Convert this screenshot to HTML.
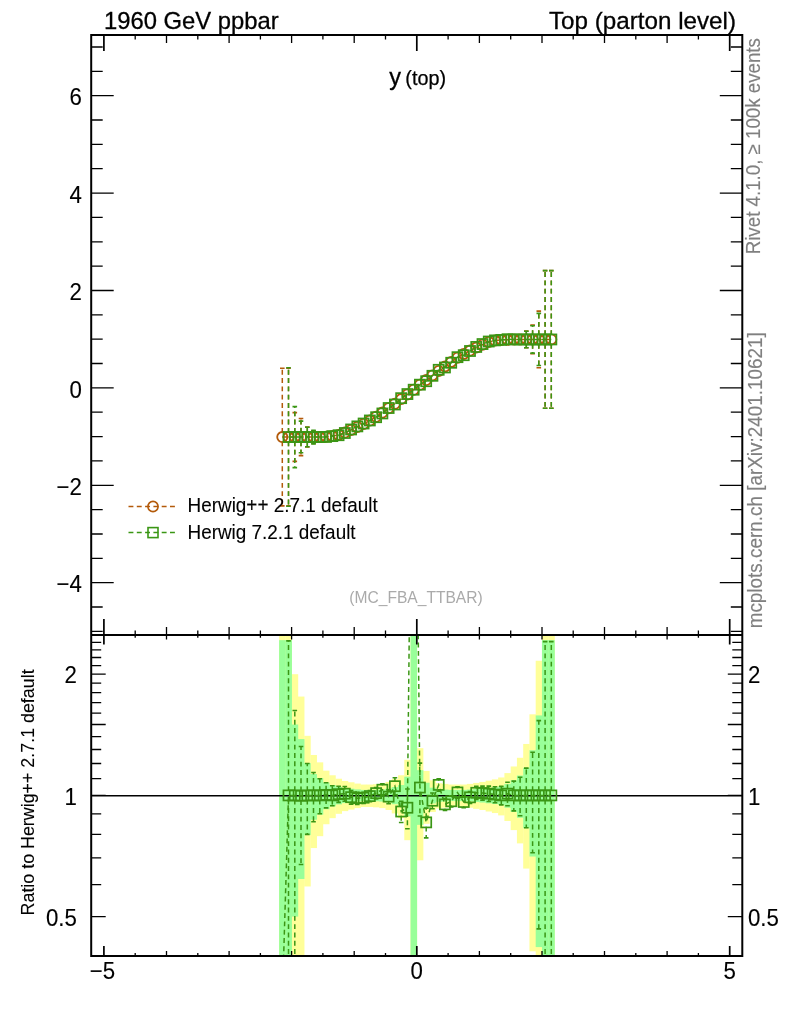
<!DOCTYPE html>
<html><head><meta charset="utf-8"><title>y (top)</title><style>html,body{margin:0;padding:0;background:#fff}svg{display:block;will-change:transform;opacity:0.999}</style></head><body>
<svg width="786" height="1024" viewBox="0 0 786 1024" font-family="'Liberation Sans', sans-serif">
<rect width="786" height="1024" fill="#fff"/>
<defs><clipPath id="cm"><rect x="91.2" y="35.0" width="651.0999999999999" height="600.0"/></clipPath><clipPath id="cr"><rect x="91.2" y="635.0" width="651.0999999999999" height="321.0"/></clipPath></defs>
<g clip-path="url(#cr)">
<rect x="279.12" y="559.23" width="6.56" height="2651.88" fill="#ffff99"/>
<rect x="285.38" y="559.23" width="6.56" height="2651.88" fill="#ffff99"/>
<rect x="291.64" y="674.20" width="6.56" height="2536.91" fill="#ffff99"/>
<rect x="297.90" y="696.55" width="6.56" height="348.39" fill="#ffff99"/>
<rect x="304.16" y="735.82" width="6.56" height="150.66" fill="#ffff99"/>
<rect x="310.41" y="754.99" width="6.56" height="93.06" fill="#ffff99"/>
<rect x="316.67" y="762.36" width="6.56" height="73.82" fill="#ffff99"/>
<rect x="322.93" y="770.66" width="6.56" height="53.57" fill="#ffff99"/>
<rect x="329.19" y="775.27" width="6.56" height="42.88" fill="#ffff99"/>
<rect x="335.45" y="778.73" width="6.56" height="35.09" fill="#ffff99"/>
<rect x="341.70" y="780.97" width="6.56" height="30.15" fill="#ffff99"/>
<rect x="347.96" y="782.27" width="6.56" height="27.33" fill="#ffff99"/>
<rect x="354.22" y="783.57" width="6.56" height="24.52" fill="#ffff99"/>
<rect x="360.48" y="784.55" width="6.56" height="22.41" fill="#ffff99"/>
<rect x="366.74" y="784.55" width="6.56" height="22.41" fill="#ffff99"/>
<rect x="372.99" y="784.22" width="6.56" height="23.11" fill="#ffff99"/>
<rect x="379.25" y="783.57" width="6.56" height="24.52" fill="#ffff99"/>
<rect x="385.51" y="781.94" width="6.56" height="28.04" fill="#ffff99"/>
<rect x="391.77" y="779.05" width="6.56" height="34.38" fill="#ffff99"/>
<rect x="398.03" y="775.27" width="6.56" height="42.88" fill="#ffff99"/>
<rect x="404.28" y="759.77" width="6.56" height="80.42" fill="#ffff99"/>
<rect x="410.54" y="-11.58" width="6.56" height="3222.68" fill="#ffff99"/>
<rect x="416.80" y="748.18" width="6.56" height="112.10" fill="#ffff99"/>
<rect x="423.06" y="770.96" width="6.56" height="52.86" fill="#ffff99"/>
<rect x="429.32" y="780.33" width="6.56" height="31.56" fill="#ffff99"/>
<rect x="435.57" y="783.24" width="6.56" height="25.22" fill="#ffff99"/>
<rect x="441.83" y="783.90" width="6.56" height="23.82" fill="#ffff99"/>
<rect x="448.09" y="784.55" width="6.56" height="22.41" fill="#ffff99"/>
<rect x="454.35" y="784.55" width="6.56" height="22.41" fill="#ffff99"/>
<rect x="460.61" y="784.55" width="6.56" height="22.41" fill="#ffff99"/>
<rect x="466.86" y="783.90" width="6.56" height="23.82" fill="#ffff99"/>
<rect x="473.12" y="782.92" width="6.56" height="25.93" fill="#ffff99"/>
<rect x="479.38" y="781.94" width="6.56" height="28.04" fill="#ffff99"/>
<rect x="485.64" y="780.65" width="6.56" height="30.85" fill="#ffff99"/>
<rect x="491.90" y="779.37" width="6.56" height="33.68" fill="#ffff99"/>
<rect x="498.15" y="777.47" width="6.56" height="37.92" fill="#ffff99"/>
<rect x="504.41" y="773.10" width="6.56" height="47.86" fill="#ffff99"/>
<rect x="510.67" y="766.46" width="6.56" height="63.64" fill="#ffff99"/>
<rect x="516.93" y="757.79" width="6.56" height="85.60" fill="#ffff99"/>
<rect x="523.19" y="743.96" width="6.56" height="124.62" fill="#ffff99"/>
<rect x="529.44" y="714.31" width="6.56" height="236.99" fill="#ffff99"/>
<rect x="535.70" y="660.74" width="6.56" height="2550.36" fill="#ffff99"/>
<rect x="541.96" y="559.23" width="6.56" height="2651.88" fill="#ffff99"/>
<rect x="548.22" y="559.23" width="6.56" height="2651.88" fill="#ffff99"/>
<rect x="279.12" y="640.15" width="6.56" height="2570.96" fill="#99ff99"/>
<rect x="285.38" y="640.15" width="6.56" height="2570.96" fill="#99ff99"/>
<rect x="291.64" y="724.50" width="6.56" height="192.10" fill="#99ff99"/>
<rect x="297.90" y="739.08" width="6.56" height="139.90" fill="#99ff99"/>
<rect x="304.16" y="763.08" width="6.56" height="71.99" fill="#99ff99"/>
<rect x="310.41" y="774.03" width="6.56" height="45.72" fill="#99ff99"/>
<rect x="316.67" y="778.10" width="6.56" height="36.50" fill="#99ff99"/>
<rect x="322.93" y="782.59" width="6.56" height="26.63" fill="#99ff99"/>
<rect x="329.19" y="785.05" width="6.56" height="21.36" fill="#99ff99"/>
<rect x="335.45" y="786.87" width="6.56" height="17.50" fill="#99ff99"/>
<rect x="341.70" y="788.04" width="6.56" height="15.05" fill="#99ff99"/>
<rect x="347.96" y="788.71" width="6.56" height="13.65" fill="#99ff99"/>
<rect x="354.22" y="789.38" width="6.56" height="12.24" fill="#99ff99"/>
<rect x="360.48" y="789.89" width="6.56" height="11.19" fill="#99ff99"/>
<rect x="366.74" y="789.89" width="6.56" height="11.19" fill="#99ff99"/>
<rect x="372.99" y="789.72" width="6.56" height="11.54" fill="#99ff99"/>
<rect x="379.25" y="789.38" width="6.56" height="12.24" fill="#99ff99"/>
<rect x="385.51" y="788.54" width="6.56" height="14.00" fill="#99ff99"/>
<rect x="391.77" y="787.04" width="6.56" height="17.15" fill="#99ff99"/>
<rect x="398.03" y="785.05" width="6.56" height="21.36" fill="#99ff99"/>
<rect x="404.28" y="776.68" width="6.56" height="39.69" fill="#99ff99"/>
<rect x="410.54" y="107.90" width="6.56" height="3103.20" fill="#99ff99"/>
<rect x="416.80" y="770.20" width="6.56" height="54.65" fill="#99ff99"/>
<rect x="423.06" y="782.75" width="6.56" height="26.28" fill="#99ff99"/>
<rect x="429.32" y="787.70" width="6.56" height="15.75" fill="#99ff99"/>
<rect x="435.57" y="789.22" width="6.56" height="12.59" fill="#99ff99"/>
<rect x="441.83" y="789.55" width="6.56" height="11.89" fill="#99ff99"/>
<rect x="448.09" y="789.89" width="6.56" height="11.19" fill="#99ff99"/>
<rect x="454.35" y="789.89" width="6.56" height="11.19" fill="#99ff99"/>
<rect x="460.61" y="789.89" width="6.56" height="11.19" fill="#99ff99"/>
<rect x="466.86" y="789.55" width="6.56" height="11.89" fill="#99ff99"/>
<rect x="473.12" y="789.05" width="6.56" height="12.95" fill="#99ff99"/>
<rect x="479.38" y="788.54" width="6.56" height="14.00" fill="#99ff99"/>
<rect x="485.64" y="787.87" width="6.56" height="15.40" fill="#99ff99"/>
<rect x="491.90" y="787.20" width="6.56" height="16.80" fill="#99ff99"/>
<rect x="498.15" y="786.20" width="6.56" height="18.90" fill="#99ff99"/>
<rect x="504.41" y="783.90" width="6.56" height="23.82" fill="#99ff99"/>
<rect x="510.67" y="780.33" width="6.56" height="31.56" fill="#99ff99"/>
<rect x="516.93" y="775.58" width="6.56" height="42.17" fill="#99ff99"/>
<rect x="523.19" y="767.80" width="6.56" height="60.39" fill="#99ff99"/>
<rect x="529.44" y="750.20" width="6.56" height="106.32" fill="#99ff99"/>
<rect x="535.70" y="715.42" width="6.56" height="231.67" fill="#99ff99"/>
<rect x="541.96" y="640.15" width="6.56" height="2570.96" fill="#99ff99"/>
<rect x="548.22" y="640.15" width="6.56" height="2570.96" fill="#99ff99"/>
<path d="M91.2 795.6999999999999H742.3" stroke="#000" stroke-width="1.5"/>
<path d="M282.3 1001.0 L288.5 795.4 L294.8 795.4 L301.0 795.8 L307.3 795.4 L313.5 795.4 L319.8 795.4 L326.1 794.9 L332.3 795.4 L338.6 794.2 L344.8 793.7 L351.1 797.2 L357.3 798.2 L363.6 797.7 L369.9 796.1 L376.1 793.1 L382.4 789.7 L388.6 796.6 L394.9 786.2 L401.2 811.5 L407.4 807.7 L413.7 219.1 L419.9 787.5 L426.2 822.4 L432.4 800.7 L438.7 784.9 L445.0 804.4 L451.2 801.3 L457.5 792.5 L463.7 802.0 L470.0 797.3 L476.3 792.8 L482.5 793.0 L488.8 793.7 L495.0 794.5 L501.3 795.4 L507.5 793.7 L513.8 795.4 L520.1 795.4 L526.3 795.4 L532.6 795.4 L538.8 795.4 L545.1 795.4 L551.3 795.4" stroke="#3a9614" stroke-width="1.5" stroke-dasharray="4.9 3.4" fill="none"/>
<path d="M288.5 791.1V640.9" stroke="#3a9614" stroke-width="1.5" stroke-dasharray="4.9 3.4" fill="none"/><path d="M288.5 799.7V1100.0" stroke="#3a9614" stroke-width="1.5" stroke-dasharray="4.9 3.4" fill="none"/><path d="M286.2 640.9h4.6M286.2 1100.0h4.6" stroke="#3a9614" stroke-width="1.6" fill="none"/>
<path d="M294.8 791.1V710.5" stroke="#3a9614" stroke-width="1.5" stroke-dasharray="4.9 3.4" fill="none"/><path d="M294.8 799.7V966.9" stroke="#3a9614" stroke-width="1.5" stroke-dasharray="4.9 3.4" fill="none"/><path d="M292.5 710.5h4.6M292.5 966.9h4.6" stroke="#3a9614" stroke-width="1.6" fill="none"/>
<path d="M301.0 791.5V746.5" stroke="#3a9614" stroke-width="1.5" stroke-dasharray="4.9 3.4" fill="none"/><path d="M301.0 800.1V864.5" stroke="#3a9614" stroke-width="1.5" stroke-dasharray="4.9 3.4" fill="none"/><path d="M298.7 746.5h4.6M298.7 864.5h4.6" stroke="#3a9614" stroke-width="1.6" fill="none"/>
<path d="M307.3 791.1V763.5" stroke="#3a9614" stroke-width="1.5" stroke-dasharray="4.9 3.4" fill="none"/><path d="M307.3 799.7V834.4" stroke="#3a9614" stroke-width="1.5" stroke-dasharray="4.9 3.4" fill="none"/><path d="M305.0 763.5h4.6M305.0 834.4h4.6" stroke="#3a9614" stroke-width="1.6" fill="none"/>
<path d="M313.5 791.1V772.5" stroke="#3a9614" stroke-width="1.5" stroke-dasharray="4.9 3.4" fill="none"/><path d="M313.5 799.7V821.8" stroke="#3a9614" stroke-width="1.5" stroke-dasharray="4.9 3.4" fill="none"/><path d="M311.2 772.5h4.6M311.2 821.8h4.6" stroke="#3a9614" stroke-width="1.6" fill="none"/>
<path d="M319.8 791.1V778.7" stroke="#3a9614" stroke-width="1.5" stroke-dasharray="4.9 3.4" fill="none"/><path d="M319.8 799.7V813.8" stroke="#3a9614" stroke-width="1.5" stroke-dasharray="4.9 3.4" fill="none"/><path d="M317.5 778.7h4.6M317.5 813.8h4.6" stroke="#3a9614" stroke-width="1.6" fill="none"/>
<path d="M326.1 790.6V782.7" stroke="#3a9614" stroke-width="1.5" stroke-dasharray="4.9 3.4" fill="none"/><path d="M326.1 799.2V807.9" stroke="#3a9614" stroke-width="1.5" stroke-dasharray="4.9 3.4" fill="none"/><path d="M323.8 782.7h4.6M323.8 807.9h4.6" stroke="#3a9614" stroke-width="1.6" fill="none"/>
<path d="M332.3 791.1V785.7" stroke="#3a9614" stroke-width="1.5" stroke-dasharray="4.9 3.4" fill="none"/><path d="M332.3 799.7V805.7" stroke="#3a9614" stroke-width="1.5" stroke-dasharray="4.9 3.4" fill="none"/><path d="M330.0 785.7h4.6M330.0 805.7h4.6" stroke="#3a9614" stroke-width="1.6" fill="none"/>
<path d="M338.6 789.9V786.3" stroke="#3a9614" stroke-width="1.5" stroke-dasharray="4.9 3.4" fill="none"/><path d="M338.6 798.5V802.4" stroke="#3a9614" stroke-width="1.5" stroke-dasharray="4.9 3.4" fill="none"/><path d="M336.3 786.3h4.6M336.3 802.4h4.6" stroke="#3a9614" stroke-width="1.6" fill="none"/>
<path d="M344.8 789.4V786.5" stroke="#3a9614" stroke-width="1.5" stroke-dasharray="4.9 3.4" fill="none"/><path d="M344.8 798.0V801.2" stroke="#3a9614" stroke-width="1.5" stroke-dasharray="4.9 3.4" fill="none"/><path d="M342.5 786.5h4.6M342.5 801.2h4.6" stroke="#3a9614" stroke-width="1.6" fill="none"/>
<path d="M351.1 792.9V790.5" stroke="#3a9614" stroke-width="1.5" stroke-dasharray="4.9 3.4" fill="none"/><path d="M351.1 801.5V804.1" stroke="#3a9614" stroke-width="1.5" stroke-dasharray="4.9 3.4" fill="none"/><path d="M348.8 790.5h4.6M348.8 804.1h4.6" stroke="#3a9614" stroke-width="1.6" fill="none"/>
<path d="M357.3 793.9V792.2" stroke="#3a9614" stroke-width="1.5" stroke-dasharray="4.9 3.4" fill="none"/><path d="M357.3 802.5V804.4" stroke="#3a9614" stroke-width="1.5" stroke-dasharray="4.9 3.4" fill="none"/><path d="M355.0 792.2h4.6M355.0 804.4h4.6" stroke="#3a9614" stroke-width="1.6" fill="none"/>
<path d="M363.6 793.4V792.2" stroke="#3a9614" stroke-width="1.5" stroke-dasharray="4.9 3.4" fill="none"/><path d="M363.6 802.0V803.4" stroke="#3a9614" stroke-width="1.5" stroke-dasharray="4.9 3.4" fill="none"/><path d="M361.3 792.2h4.6M361.3 803.4h4.6" stroke="#3a9614" stroke-width="1.6" fill="none"/>
<path d="M369.9 791.8V790.6" stroke="#3a9614" stroke-width="1.5" stroke-dasharray="4.9 3.4" fill="none"/><path d="M369.9 800.4V801.8" stroke="#3a9614" stroke-width="1.5" stroke-dasharray="4.9 3.4" fill="none"/><path d="M367.6 790.6h4.6M367.6 801.8h4.6" stroke="#3a9614" stroke-width="1.6" fill="none"/>
<path d="M376.1 788.8V787.5" stroke="#3a9614" stroke-width="1.5" stroke-dasharray="4.9 3.4" fill="none"/><path d="M376.1 797.4V799.0" stroke="#3a9614" stroke-width="1.5" stroke-dasharray="4.9 3.4" fill="none"/><path d="M373.8 787.5h4.6M373.8 799.0h4.6" stroke="#3a9614" stroke-width="1.6" fill="none"/>
<path d="M382.4 785.4V783.7" stroke="#3a9614" stroke-width="1.5" stroke-dasharray="4.9 3.4" fill="none"/><path d="M382.4 794.0V796.0" stroke="#3a9614" stroke-width="1.5" stroke-dasharray="4.9 3.4" fill="none"/><path d="M380.1 783.7h4.6M380.1 796.0h4.6" stroke="#3a9614" stroke-width="1.6" fill="none"/>
<path d="M388.6 792.3V789.8" stroke="#3a9614" stroke-width="1.5" stroke-dasharray="4.9 3.4" fill="none"/><path d="M388.6 800.9V803.8" stroke="#3a9614" stroke-width="1.5" stroke-dasharray="4.9 3.4" fill="none"/><path d="M386.3 789.8h4.6M386.3 803.8h4.6" stroke="#3a9614" stroke-width="1.6" fill="none"/>
<path d="M394.9 781.9V777.8" stroke="#3a9614" stroke-width="1.5" stroke-dasharray="4.9 3.4" fill="none"/><path d="M394.9 790.5V795.0" stroke="#3a9614" stroke-width="1.5" stroke-dasharray="4.9 3.4" fill="none"/><path d="M392.6 777.8h4.6M392.6 795.0h4.6" stroke="#3a9614" stroke-width="1.6" fill="none"/>
<path d="M401.2 807.2V801.2" stroke="#3a9614" stroke-width="1.5" stroke-dasharray="4.9 3.4" fill="none"/><path d="M401.2 815.8V822.5" stroke="#3a9614" stroke-width="1.5" stroke-dasharray="4.9 3.4" fill="none"/><path d="M398.9 801.2h4.6M398.9 822.5h4.6" stroke="#3a9614" stroke-width="1.6" fill="none"/>
<path d="M407.4 803.4V789.0" stroke="#3a9614" stroke-width="1.5" stroke-dasharray="4.9 3.4" fill="none"/><path d="M407.4 812.0V828.7" stroke="#3a9614" stroke-width="1.5" stroke-dasharray="4.9 3.4" fill="none"/><path d="M405.1 789.0h4.6M405.1 828.7h4.6" stroke="#3a9614" stroke-width="1.6" fill="none"/>
<path d="M419.9 783.2V763.1" stroke="#3a9614" stroke-width="1.5" stroke-dasharray="4.9 3.4" fill="none"/><path d="M419.9 791.8V816.0" stroke="#3a9614" stroke-width="1.5" stroke-dasharray="4.9 3.4" fill="none"/><path d="M417.6 763.1h4.6M417.6 816.0h4.6" stroke="#3a9614" stroke-width="1.6" fill="none"/>
<path d="M426.2 818.1V808.1" stroke="#3a9614" stroke-width="1.5" stroke-dasharray="4.9 3.4" fill="none"/><path d="M426.2 826.7V837.9" stroke="#3a9614" stroke-width="1.5" stroke-dasharray="4.9 3.4" fill="none"/><path d="M423.9 808.1h4.6M423.9 837.9h4.6" stroke="#3a9614" stroke-width="1.6" fill="none"/>
<path d="M432.4 796.4V793.0" stroke="#3a9614" stroke-width="1.5" stroke-dasharray="4.9 3.4" fill="none"/><path d="M432.4 805.0V808.8" stroke="#3a9614" stroke-width="1.5" stroke-dasharray="4.9 3.4" fill="none"/><path d="M430.1 793.0h4.6M430.1 808.8h4.6" stroke="#3a9614" stroke-width="1.6" fill="none"/>
<path d="M438.7 780.6V778.7" stroke="#3a9614" stroke-width="1.5" stroke-dasharray="4.9 3.4" fill="none"/><path d="M438.7 789.2V791.3" stroke="#3a9614" stroke-width="1.5" stroke-dasharray="4.9 3.4" fill="none"/><path d="M436.4 778.7h4.6M436.4 791.3h4.6" stroke="#3a9614" stroke-width="1.6" fill="none"/>
<path d="M445.0 800.1V798.5" stroke="#3a9614" stroke-width="1.5" stroke-dasharray="4.9 3.4" fill="none"/><path d="M445.0 808.7V810.4" stroke="#3a9614" stroke-width="1.5" stroke-dasharray="4.9 3.4" fill="none"/><path d="M442.7 798.5h4.6M442.7 810.4h4.6" stroke="#3a9614" stroke-width="1.6" fill="none"/>
<path d="M451.2 797.0V795.8" stroke="#3a9614" stroke-width="1.5" stroke-dasharray="4.9 3.4" fill="none"/><path d="M451.2 805.6V807.0" stroke="#3a9614" stroke-width="1.5" stroke-dasharray="4.9 3.4" fill="none"/><path d="M448.9 795.8h4.6M448.9 807.0h4.6" stroke="#3a9614" stroke-width="1.6" fill="none"/>
<path d="M457.5 788.2V786.9" stroke="#3a9614" stroke-width="1.5" stroke-dasharray="4.9 3.4" fill="none"/><path d="M457.5 796.8V798.1" stroke="#3a9614" stroke-width="1.5" stroke-dasharray="4.9 3.4" fill="none"/><path d="M455.2 786.9h4.6M455.2 798.1h4.6" stroke="#3a9614" stroke-width="1.6" fill="none"/>
<path d="M463.7 797.7V796.5" stroke="#3a9614" stroke-width="1.5" stroke-dasharray="4.9 3.4" fill="none"/><path d="M463.7 806.3V807.7" stroke="#3a9614" stroke-width="1.5" stroke-dasharray="4.9 3.4" fill="none"/><path d="M461.4 796.5h4.6M461.4 807.7h4.6" stroke="#3a9614" stroke-width="1.6" fill="none"/>
<path d="M470.0 793.0V791.5" stroke="#3a9614" stroke-width="1.5" stroke-dasharray="4.9 3.4" fill="none"/><path d="M470.0 801.6V803.4" stroke="#3a9614" stroke-width="1.5" stroke-dasharray="4.9 3.4" fill="none"/><path d="M467.7 791.5h4.6M467.7 803.4h4.6" stroke="#3a9614" stroke-width="1.6" fill="none"/>
<path d="M476.3 788.5V786.4" stroke="#3a9614" stroke-width="1.5" stroke-dasharray="4.9 3.4" fill="none"/><path d="M476.3 797.1V799.4" stroke="#3a9614" stroke-width="1.5" stroke-dasharray="4.9 3.4" fill="none"/><path d="M474.0 786.4h4.6M474.0 799.4h4.6" stroke="#3a9614" stroke-width="1.6" fill="none"/>
<path d="M482.5 788.7V786.1" stroke="#3a9614" stroke-width="1.5" stroke-dasharray="4.9 3.4" fill="none"/><path d="M482.5 797.3V800.1" stroke="#3a9614" stroke-width="1.5" stroke-dasharray="4.9 3.4" fill="none"/><path d="M480.2 786.1h4.6M480.2 800.1h4.6" stroke="#3a9614" stroke-width="1.6" fill="none"/>
<path d="M488.8 789.4V786.1" stroke="#3a9614" stroke-width="1.5" stroke-dasharray="4.9 3.4" fill="none"/><path d="M488.8 798.0V801.5" stroke="#3a9614" stroke-width="1.5" stroke-dasharray="4.9 3.4" fill="none"/><path d="M486.5 786.1h4.6M486.5 801.5h4.6" stroke="#3a9614" stroke-width="1.6" fill="none"/>
<path d="M495.0 790.2V786.7" stroke="#3a9614" stroke-width="1.5" stroke-dasharray="4.9 3.4" fill="none"/><path d="M495.0 798.8V802.8" stroke="#3a9614" stroke-width="1.5" stroke-dasharray="4.9 3.4" fill="none"/><path d="M492.7 786.7h4.6M492.7 802.8h4.6" stroke="#3a9614" stroke-width="1.6" fill="none"/>
<path d="M501.3 791.1V786.4" stroke="#3a9614" stroke-width="1.5" stroke-dasharray="4.9 3.4" fill="none"/><path d="M501.3 799.7V804.9" stroke="#3a9614" stroke-width="1.5" stroke-dasharray="4.9 3.4" fill="none"/><path d="M499.0 786.4h4.6M499.0 804.9h4.6" stroke="#3a9614" stroke-width="1.6" fill="none"/>
<path d="M507.5 789.4V782.3" stroke="#3a9614" stroke-width="1.5" stroke-dasharray="4.9 3.4" fill="none"/><path d="M507.5 798.0V805.8" stroke="#3a9614" stroke-width="1.5" stroke-dasharray="4.9 3.4" fill="none"/><path d="M505.2 782.3h4.6M505.2 805.8h4.6" stroke="#3a9614" stroke-width="1.6" fill="none"/>
<path d="M513.8 791.1V781.1" stroke="#3a9614" stroke-width="1.5" stroke-dasharray="4.9 3.4" fill="none"/><path d="M513.8 799.7V810.9" stroke="#3a9614" stroke-width="1.5" stroke-dasharray="4.9 3.4" fill="none"/><path d="M511.5 781.1h4.6M511.5 810.9h4.6" stroke="#3a9614" stroke-width="1.6" fill="none"/>
<path d="M520.1 791.1V777.2" stroke="#3a9614" stroke-width="1.5" stroke-dasharray="4.9 3.4" fill="none"/><path d="M520.1 799.7V815.8" stroke="#3a9614" stroke-width="1.5" stroke-dasharray="4.9 3.4" fill="none"/><path d="M517.8 777.2h4.6M517.8 815.8h4.6" stroke="#3a9614" stroke-width="1.6" fill="none"/>
<path d="M526.3 791.1V768.1" stroke="#3a9614" stroke-width="1.5" stroke-dasharray="4.9 3.4" fill="none"/><path d="M526.3 799.7V827.8" stroke="#3a9614" stroke-width="1.5" stroke-dasharray="4.9 3.4" fill="none"/><path d="M524.0 768.1h4.6M524.0 827.8h4.6" stroke="#3a9614" stroke-width="1.6" fill="none"/>
<path d="M532.6 791.1V752.2" stroke="#3a9614" stroke-width="1.5" stroke-dasharray="4.9 3.4" fill="none"/><path d="M532.6 799.7V852.8" stroke="#3a9614" stroke-width="1.5" stroke-dasharray="4.9 3.4" fill="none"/><path d="M530.3 752.2h4.6M530.3 852.8h4.6" stroke="#3a9614" stroke-width="1.6" fill="none"/>
<path d="M538.8 791.1V720.6" stroke="#3a9614" stroke-width="1.5" stroke-dasharray="4.9 3.4" fill="none"/><path d="M538.8 799.7V928.9" stroke="#3a9614" stroke-width="1.5" stroke-dasharray="4.9 3.4" fill="none"/><path d="M536.5 720.6h4.6M536.5 928.9h4.6" stroke="#3a9614" stroke-width="1.6" fill="none"/>
<path d="M545.1 791.1V641.6" stroke="#3a9614" stroke-width="1.5" stroke-dasharray="4.9 3.4" fill="none"/><path d="M545.1 799.7V1100.0" stroke="#3a9614" stroke-width="1.5" stroke-dasharray="4.9 3.4" fill="none"/><path d="M542.8 641.6h4.6M542.8 1100.0h4.6" stroke="#3a9614" stroke-width="1.6" fill="none"/>
<path d="M551.3 791.1V641.6" stroke="#3a9614" stroke-width="1.5" stroke-dasharray="4.9 3.4" fill="none"/><path d="M551.3 799.7V1100.0" stroke="#3a9614" stroke-width="1.5" stroke-dasharray="4.9 3.4" fill="none"/><path d="M549.0 641.6h4.6M549.0 1100.0h4.6" stroke="#3a9614" stroke-width="1.6" fill="none"/>
<rect x="283.46" y="790.35" width="10.1" height="10.1" fill="none" stroke="#3a9614" stroke-width="1.7"/>
<rect x="289.72" y="790.35" width="10.1" height="10.1" fill="none" stroke="#3a9614" stroke-width="1.7"/>
<rect x="295.98" y="790.70" width="10.1" height="10.1" fill="none" stroke="#3a9614" stroke-width="1.7"/>
<rect x="302.24" y="790.35" width="10.1" height="10.1" fill="none" stroke="#3a9614" stroke-width="1.7"/>
<rect x="308.49" y="790.35" width="10.1" height="10.1" fill="none" stroke="#3a9614" stroke-width="1.7"/>
<rect x="314.75" y="790.35" width="10.1" height="10.1" fill="none" stroke="#3a9614" stroke-width="1.7"/>
<rect x="321.01" y="789.83" width="10.1" height="10.1" fill="none" stroke="#3a9614" stroke-width="1.7"/>
<rect x="327.27" y="790.35" width="10.1" height="10.1" fill="none" stroke="#3a9614" stroke-width="1.7"/>
<rect x="333.53" y="789.13" width="10.1" height="10.1" fill="none" stroke="#3a9614" stroke-width="1.7"/>
<rect x="339.78" y="788.61" width="10.1" height="10.1" fill="none" stroke="#3a9614" stroke-width="1.7"/>
<rect x="346.04" y="792.11" width="10.1" height="10.1" fill="none" stroke="#3a9614" stroke-width="1.7"/>
<rect x="352.30" y="793.17" width="10.1" height="10.1" fill="none" stroke="#3a9614" stroke-width="1.7"/>
<rect x="358.56" y="792.64" width="10.1" height="10.1" fill="none" stroke="#3a9614" stroke-width="1.7"/>
<rect x="364.81" y="791.05" width="10.1" height="10.1" fill="none" stroke="#3a9614" stroke-width="1.7"/>
<rect x="371.07" y="788.09" width="10.1" height="10.1" fill="none" stroke="#3a9614" stroke-width="1.7"/>
<rect x="377.33" y="784.67" width="10.1" height="10.1" fill="none" stroke="#3a9614" stroke-width="1.7"/>
<rect x="383.59" y="791.58" width="10.1" height="10.1" fill="none" stroke="#3a9614" stroke-width="1.7"/>
<rect x="389.85" y="781.15" width="10.1" height="10.1" fill="none" stroke="#3a9614" stroke-width="1.7"/>
<rect x="396.11" y="806.46" width="10.1" height="10.1" fill="none" stroke="#3a9614" stroke-width="1.7"/>
<rect x="402.36" y="802.66" width="10.1" height="10.1" fill="none" stroke="#3a9614" stroke-width="1.7"/>
<rect x="414.88" y="782.49" width="10.1" height="10.1" fill="none" stroke="#3a9614" stroke-width="1.7"/>
<rect x="421.14" y="817.33" width="10.1" height="10.1" fill="none" stroke="#3a9614" stroke-width="1.7"/>
<rect x="427.39" y="795.68" width="10.1" height="10.1" fill="none" stroke="#3a9614" stroke-width="1.7"/>
<rect x="433.65" y="779.83" width="10.1" height="10.1" fill="none" stroke="#3a9614" stroke-width="1.7"/>
<rect x="439.91" y="799.32" width="10.1" height="10.1" fill="none" stroke="#3a9614" stroke-width="1.7"/>
<rect x="446.17" y="796.22" width="10.1" height="10.1" fill="none" stroke="#3a9614" stroke-width="1.7"/>
<rect x="452.43" y="787.40" width="10.1" height="10.1" fill="none" stroke="#3a9614" stroke-width="1.7"/>
<rect x="458.69" y="796.94" width="10.1" height="10.1" fill="none" stroke="#3a9614" stroke-width="1.7"/>
<rect x="464.94" y="792.28" width="10.1" height="10.1" fill="none" stroke="#3a9614" stroke-width="1.7"/>
<rect x="471.20" y="787.75" width="10.1" height="10.1" fill="none" stroke="#3a9614" stroke-width="1.7"/>
<rect x="477.46" y="787.92" width="10.1" height="10.1" fill="none" stroke="#3a9614" stroke-width="1.7"/>
<rect x="483.72" y="788.61" width="10.1" height="10.1" fill="none" stroke="#3a9614" stroke-width="1.7"/>
<rect x="489.97" y="789.48" width="10.1" height="10.1" fill="none" stroke="#3a9614" stroke-width="1.7"/>
<rect x="496.23" y="790.35" width="10.1" height="10.1" fill="none" stroke="#3a9614" stroke-width="1.7"/>
<rect x="502.49" y="788.61" width="10.1" height="10.1" fill="none" stroke="#3a9614" stroke-width="1.7"/>
<rect x="508.75" y="790.35" width="10.1" height="10.1" fill="none" stroke="#3a9614" stroke-width="1.7"/>
<rect x="515.01" y="790.35" width="10.1" height="10.1" fill="none" stroke="#3a9614" stroke-width="1.7"/>
<rect x="521.27" y="790.35" width="10.1" height="10.1" fill="none" stroke="#3a9614" stroke-width="1.7"/>
<rect x="527.52" y="790.35" width="10.1" height="10.1" fill="none" stroke="#3a9614" stroke-width="1.7"/>
<rect x="533.78" y="790.35" width="10.1" height="10.1" fill="none" stroke="#3a9614" stroke-width="1.7"/>
<rect x="540.04" y="790.35" width="10.1" height="10.1" fill="none" stroke="#3a9614" stroke-width="1.7"/>
<rect x="546.30" y="790.35" width="10.1" height="10.1" fill="none" stroke="#3a9614" stroke-width="1.7"/>
</g>
<g clip-path="url(#cm)">
<path d="M282.3 437.1 L288.5 437.1 L294.8 437.1 L301.0 437.1 L307.3 437.1 L313.5 437.1 L319.8 437.1 L326.1 436.8 L332.3 436.1 L338.6 434.9 L344.8 432.6 L351.1 429.9 L357.3 427.0 L363.6 424.0 L369.9 420.6 L376.1 416.8 L382.4 412.6 L388.6 408.2 L394.9 403.7 L401.2 399.1 L407.4 394.5 L413.7 389.7 L419.9 384.8 L426.2 380.1 L432.4 375.4 L438.7 370.9 L445.0 366.4 L451.2 361.9 L457.5 357.7 L463.7 353.9 L470.0 350.6 L476.3 347.6 L482.5 344.7 L488.8 342.0 L495.0 340.6 L501.3 339.9 L507.5 339.7 L513.8 339.4 L520.1 339.4 L526.3 339.4 L532.6 339.4 L538.8 339.4 L545.1 339.4 L551.3 339.4" stroke="#b35a0a" stroke-width="1.5" stroke-dasharray="4.9 3.4" fill="none"/>
<path d="M282.3 432.8V368.2" stroke="#b35a0a" stroke-width="1.5" stroke-dasharray="4.9 3.4" fill="none"/><path d="M282.3 441.4V505.9" stroke="#b35a0a" stroke-width="1.5" stroke-dasharray="4.9 3.4" fill="none"/><path d="M280.0 368.2h4.6M280.0 505.9h4.6" stroke="#b35a0a" stroke-width="1.6" fill="none"/>
<path d="M288.5 432.8V368.2" stroke="#b35a0a" stroke-width="1.5" stroke-dasharray="4.9 3.4" fill="none"/><path d="M288.5 441.4V505.9" stroke="#b35a0a" stroke-width="1.5" stroke-dasharray="4.9 3.4" fill="none"/><path d="M286.2 368.2h4.6M286.2 505.9h4.6" stroke="#b35a0a" stroke-width="1.6" fill="none"/>
<path d="M294.8 432.8V412.6" stroke="#b35a0a" stroke-width="1.5" stroke-dasharray="4.9 3.4" fill="none"/><path d="M294.8 441.4V461.4" stroke="#b35a0a" stroke-width="1.5" stroke-dasharray="4.9 3.4" fill="none"/><path d="M292.5 412.6h4.6M292.5 461.4h4.6" stroke="#b35a0a" stroke-width="1.6" fill="none"/>
<path d="M301.0 432.8V418.5" stroke="#b35a0a" stroke-width="1.5" stroke-dasharray="4.9 3.4" fill="none"/><path d="M301.0 441.4V455.6" stroke="#b35a0a" stroke-width="1.5" stroke-dasharray="4.9 3.4" fill="none"/><path d="M298.7 418.5h4.6M298.7 455.6h4.6" stroke="#b35a0a" stroke-width="1.6" fill="none"/>
<path d="M307.3 432.8V427.1" stroke="#b35a0a" stroke-width="1.5" stroke-dasharray="4.9 3.4" fill="none"/><path d="M307.3 441.4V447.0" stroke="#b35a0a" stroke-width="1.5" stroke-dasharray="4.9 3.4" fill="none"/><path d="M305.0 427.1h4.6M305.0 447.0h4.6" stroke="#b35a0a" stroke-width="1.6" fill="none"/>
<path d="M313.5 432.8V430.7" stroke="#b35a0a" stroke-width="1.5" stroke-dasharray="4.9 3.4" fill="none"/><path d="M313.5 441.4V443.4" stroke="#b35a0a" stroke-width="1.5" stroke-dasharray="4.9 3.4" fill="none"/><path d="M311.2 430.7h4.6M311.2 443.4h4.6" stroke="#b35a0a" stroke-width="1.6" fill="none"/>
<path d="M526.3 335.1V331.1" stroke="#b35a0a" stroke-width="1.5" stroke-dasharray="4.9 3.4" fill="none"/><path d="M526.3 343.8V347.8" stroke="#b35a0a" stroke-width="1.5" stroke-dasharray="4.9 3.4" fill="none"/><path d="M524.0 331.1h4.6M524.0 347.8h4.6" stroke="#b35a0a" stroke-width="1.6" fill="none"/>
<path d="M532.6 335.1V325.1" stroke="#b35a0a" stroke-width="1.5" stroke-dasharray="4.9 3.4" fill="none"/><path d="M532.6 343.8V353.8" stroke="#b35a0a" stroke-width="1.5" stroke-dasharray="4.9 3.4" fill="none"/><path d="M530.3 325.1h4.6M530.3 353.8h4.6" stroke="#b35a0a" stroke-width="1.6" fill="none"/>
<path d="M538.8 335.1V311.1" stroke="#b35a0a" stroke-width="1.5" stroke-dasharray="4.9 3.4" fill="none"/><path d="M538.8 343.8V367.8" stroke="#b35a0a" stroke-width="1.5" stroke-dasharray="4.9 3.4" fill="none"/><path d="M536.5 311.1h4.6M536.5 367.8h4.6" stroke="#b35a0a" stroke-width="1.6" fill="none"/>
<path d="M545.1 335.1V270.6" stroke="#b35a0a" stroke-width="1.5" stroke-dasharray="4.9 3.4" fill="none"/><path d="M545.1 343.8V408.3" stroke="#b35a0a" stroke-width="1.5" stroke-dasharray="4.9 3.4" fill="none"/><path d="M542.8 270.6h4.6M542.8 408.3h4.6" stroke="#b35a0a" stroke-width="1.6" fill="none"/>
<path d="M551.3 335.1V270.6" stroke="#b35a0a" stroke-width="1.5" stroke-dasharray="4.9 3.4" fill="none"/><path d="M551.3 343.8V408.3" stroke="#b35a0a" stroke-width="1.5" stroke-dasharray="4.9 3.4" fill="none"/><path d="M549.0 270.6h4.6M549.0 408.3h4.6" stroke="#b35a0a" stroke-width="1.6" fill="none"/>
<circle cx="282.3" cy="437.1" r="5.1" fill="none" stroke="#b35a0a" stroke-width="1.8"/>
<circle cx="288.5" cy="437.1" r="5.1" fill="none" stroke="#b35a0a" stroke-width="1.8"/>
<circle cx="294.8" cy="437.1" r="5.1" fill="none" stroke="#b35a0a" stroke-width="1.8"/>
<circle cx="301.0" cy="437.1" r="5.1" fill="none" stroke="#b35a0a" stroke-width="1.8"/>
<circle cx="307.3" cy="437.1" r="5.1" fill="none" stroke="#b35a0a" stroke-width="1.8"/>
<circle cx="313.5" cy="437.1" r="5.1" fill="none" stroke="#b35a0a" stroke-width="1.8"/>
<circle cx="319.8" cy="437.1" r="5.1" fill="none" stroke="#b35a0a" stroke-width="1.8"/>
<circle cx="326.1" cy="436.8" r="5.1" fill="none" stroke="#b35a0a" stroke-width="1.8"/>
<circle cx="332.3" cy="436.1" r="5.1" fill="none" stroke="#b35a0a" stroke-width="1.8"/>
<circle cx="338.6" cy="434.9" r="5.1" fill="none" stroke="#b35a0a" stroke-width="1.8"/>
<circle cx="344.8" cy="432.6" r="5.1" fill="none" stroke="#b35a0a" stroke-width="1.8"/>
<circle cx="351.1" cy="429.9" r="5.1" fill="none" stroke="#b35a0a" stroke-width="1.8"/>
<circle cx="357.3" cy="427.0" r="5.1" fill="none" stroke="#b35a0a" stroke-width="1.8"/>
<circle cx="363.6" cy="424.0" r="5.1" fill="none" stroke="#b35a0a" stroke-width="1.8"/>
<circle cx="369.9" cy="420.6" r="5.1" fill="none" stroke="#b35a0a" stroke-width="1.8"/>
<circle cx="376.1" cy="416.8" r="5.1" fill="none" stroke="#b35a0a" stroke-width="1.8"/>
<circle cx="382.4" cy="412.6" r="5.1" fill="none" stroke="#b35a0a" stroke-width="1.8"/>
<circle cx="388.6" cy="408.2" r="5.1" fill="none" stroke="#b35a0a" stroke-width="1.8"/>
<circle cx="394.9" cy="403.7" r="5.1" fill="none" stroke="#b35a0a" stroke-width="1.8"/>
<circle cx="401.2" cy="399.1" r="5.1" fill="none" stroke="#b35a0a" stroke-width="1.8"/>
<circle cx="407.4" cy="394.5" r="5.1" fill="none" stroke="#b35a0a" stroke-width="1.8"/>
<circle cx="413.7" cy="389.7" r="5.1" fill="none" stroke="#b35a0a" stroke-width="1.8"/>
<circle cx="419.9" cy="384.8" r="5.1" fill="none" stroke="#b35a0a" stroke-width="1.8"/>
<circle cx="426.2" cy="380.1" r="5.1" fill="none" stroke="#b35a0a" stroke-width="1.8"/>
<circle cx="432.4" cy="375.4" r="5.1" fill="none" stroke="#b35a0a" stroke-width="1.8"/>
<circle cx="438.7" cy="370.9" r="5.1" fill="none" stroke="#b35a0a" stroke-width="1.8"/>
<circle cx="445.0" cy="366.4" r="5.1" fill="none" stroke="#b35a0a" stroke-width="1.8"/>
<circle cx="451.2" cy="361.9" r="5.1" fill="none" stroke="#b35a0a" stroke-width="1.8"/>
<circle cx="457.5" cy="357.7" r="5.1" fill="none" stroke="#b35a0a" stroke-width="1.8"/>
<circle cx="463.7" cy="353.9" r="5.1" fill="none" stroke="#b35a0a" stroke-width="1.8"/>
<circle cx="470.0" cy="350.6" r="5.1" fill="none" stroke="#b35a0a" stroke-width="1.8"/>
<circle cx="476.3" cy="347.6" r="5.1" fill="none" stroke="#b35a0a" stroke-width="1.8"/>
<circle cx="482.5" cy="344.7" r="5.1" fill="none" stroke="#b35a0a" stroke-width="1.8"/>
<circle cx="488.8" cy="342.0" r="5.1" fill="none" stroke="#b35a0a" stroke-width="1.8"/>
<circle cx="495.0" cy="340.6" r="5.1" fill="none" stroke="#b35a0a" stroke-width="1.8"/>
<circle cx="501.3" cy="339.9" r="5.1" fill="none" stroke="#b35a0a" stroke-width="1.8"/>
<circle cx="507.5" cy="339.7" r="5.1" fill="none" stroke="#b35a0a" stroke-width="1.8"/>
<circle cx="513.8" cy="339.4" r="5.1" fill="none" stroke="#b35a0a" stroke-width="1.8"/>
<circle cx="520.1" cy="339.4" r="5.1" fill="none" stroke="#b35a0a" stroke-width="1.8"/>
<circle cx="526.3" cy="339.4" r="5.1" fill="none" stroke="#b35a0a" stroke-width="1.8"/>
<circle cx="532.6" cy="339.4" r="5.1" fill="none" stroke="#b35a0a" stroke-width="1.8"/>
<circle cx="538.8" cy="339.4" r="5.1" fill="none" stroke="#b35a0a" stroke-width="1.8"/>
<circle cx="545.1" cy="339.4" r="5.1" fill="none" stroke="#b35a0a" stroke-width="1.8"/>
<circle cx="551.3" cy="339.4" r="5.1" fill="none" stroke="#b35a0a" stroke-width="1.8"/>
<path d="M288.5 437.1 L294.8 437.1 L301.0 437.0 L307.3 437.1 L313.5 437.1 L319.8 437.1 L326.1 437.0 L332.3 436.1 L338.6 435.2 L344.8 433.0 L351.1 429.5 L357.3 426.4 L363.6 423.5 L369.9 420.5 L376.1 417.2 L382.4 413.5 L388.6 408.0 L394.9 404.5 L401.2 398.2 L407.4 394.1 L413.7 389.7 L419.9 384.7 L426.2 381.2 L432.4 375.8 L438.7 369.8 L445.0 367.5 L451.2 362.8 L457.5 357.2 L463.7 355.2 L470.0 351.0 L476.3 346.9 L482.5 344.1 L488.8 341.5 L495.0 340.4 L501.3 339.9 L507.5 339.2 L513.8 339.4 L520.1 339.4 L526.3 339.4 L532.6 339.4 L538.8 339.4 L545.1 339.4 L551.3 339.4" stroke="#3a9614" stroke-width="1.5" stroke-dasharray="4.9 3.4" fill="none"/>
<path d="M288.5 432.8V367.8" stroke="#3a9614" stroke-width="1.5" stroke-dasharray="4.9 3.4" fill="none"/><path d="M288.5 441.4V506.3" stroke="#3a9614" stroke-width="1.5" stroke-dasharray="4.9 3.4" fill="none"/><path d="M286.2 367.8h4.6M286.2 506.3h4.6" stroke="#3a9614" stroke-width="1.6" fill="none"/>
<path d="M294.8 432.8V406.6" stroke="#3a9614" stroke-width="1.5" stroke-dasharray="4.9 3.4" fill="none"/><path d="M294.8 441.4V467.6" stroke="#3a9614" stroke-width="1.5" stroke-dasharray="4.9 3.4" fill="none"/><path d="M292.5 406.6h4.6M292.5 467.6h4.6" stroke="#3a9614" stroke-width="1.6" fill="none"/>
<path d="M301.0 432.7V421.1" stroke="#3a9614" stroke-width="1.5" stroke-dasharray="4.9 3.4" fill="none"/><path d="M301.0 441.3V452.8" stroke="#3a9614" stroke-width="1.5" stroke-dasharray="4.9 3.4" fill="none"/><path d="M298.7 421.1h4.6M298.7 452.8h4.6" stroke="#3a9614" stroke-width="1.6" fill="none"/>
<path d="M307.3 432.8V427.3" stroke="#3a9614" stroke-width="1.5" stroke-dasharray="4.9 3.4" fill="none"/><path d="M307.3 441.4V446.8" stroke="#3a9614" stroke-width="1.5" stroke-dasharray="4.9 3.4" fill="none"/><path d="M305.0 427.3h4.6M305.0 446.8h4.6" stroke="#3a9614" stroke-width="1.6" fill="none"/>
<path d="M313.5 432.8V430.2" stroke="#3a9614" stroke-width="1.5" stroke-dasharray="4.9 3.4" fill="none"/><path d="M313.5 441.4V443.9" stroke="#3a9614" stroke-width="1.5" stroke-dasharray="4.9 3.4" fill="none"/><path d="M311.2 430.2h4.6M311.2 443.9h4.6" stroke="#3a9614" stroke-width="1.6" fill="none"/>
<path d="M526.3 335.1V331.2" stroke="#3a9614" stroke-width="1.5" stroke-dasharray="4.9 3.4" fill="none"/><path d="M526.3 343.8V347.7" stroke="#3a9614" stroke-width="1.5" stroke-dasharray="4.9 3.4" fill="none"/><path d="M524.0 331.2h4.6M524.0 347.7h4.6" stroke="#3a9614" stroke-width="1.6" fill="none"/>
<path d="M532.6 335.1V325.8" stroke="#3a9614" stroke-width="1.5" stroke-dasharray="4.9 3.4" fill="none"/><path d="M532.6 343.8V353.1" stroke="#3a9614" stroke-width="1.5" stroke-dasharray="4.9 3.4" fill="none"/><path d="M530.3 325.8h4.6M530.3 353.1h4.6" stroke="#3a9614" stroke-width="1.6" fill="none"/>
<path d="M538.8 335.1V313.4" stroke="#3a9614" stroke-width="1.5" stroke-dasharray="4.9 3.4" fill="none"/><path d="M538.8 343.8V365.5" stroke="#3a9614" stroke-width="1.5" stroke-dasharray="4.9 3.4" fill="none"/><path d="M536.5 313.4h4.6M536.5 365.5h4.6" stroke="#3a9614" stroke-width="1.6" fill="none"/>
<path d="M545.1 335.1V270.6" stroke="#3a9614" stroke-width="1.5" stroke-dasharray="4.9 3.4" fill="none"/><path d="M545.1 343.8V408.3" stroke="#3a9614" stroke-width="1.5" stroke-dasharray="4.9 3.4" fill="none"/><path d="M542.8 270.6h4.6M542.8 408.3h4.6" stroke="#3a9614" stroke-width="1.6" fill="none"/>
<path d="M551.3 335.1V270.6" stroke="#3a9614" stroke-width="1.5" stroke-dasharray="4.9 3.4" fill="none"/><path d="M551.3 343.8V408.3" stroke="#3a9614" stroke-width="1.5" stroke-dasharray="4.9 3.4" fill="none"/><path d="M549.0 270.6h4.6M549.0 408.3h4.6" stroke="#3a9614" stroke-width="1.6" fill="none"/>
<rect x="283.46" y="432.00" width="10.1" height="10.1" fill="none" stroke="#3a9614" stroke-width="1.7"/>
<rect x="289.72" y="432.00" width="10.1" height="10.1" fill="none" stroke="#3a9614" stroke-width="1.7"/>
<rect x="295.98" y="431.90" width="10.1" height="10.1" fill="none" stroke="#3a9614" stroke-width="1.7"/>
<rect x="302.24" y="432.00" width="10.1" height="10.1" fill="none" stroke="#3a9614" stroke-width="1.7"/>
<rect x="308.49" y="432.00" width="10.1" height="10.1" fill="none" stroke="#3a9614" stroke-width="1.7"/>
<rect x="314.75" y="432.00" width="10.1" height="10.1" fill="none" stroke="#3a9614" stroke-width="1.7"/>
<rect x="321.01" y="431.90" width="10.1" height="10.1" fill="none" stroke="#3a9614" stroke-width="1.7"/>
<rect x="327.27" y="431.07" width="10.1" height="10.1" fill="none" stroke="#3a9614" stroke-width="1.7"/>
<rect x="333.53" y="430.18" width="10.1" height="10.1" fill="none" stroke="#3a9614" stroke-width="1.7"/>
<rect x="339.78" y="427.95" width="10.1" height="10.1" fill="none" stroke="#3a9614" stroke-width="1.7"/>
<rect x="346.04" y="424.41" width="10.1" height="10.1" fill="none" stroke="#3a9614" stroke-width="1.7"/>
<rect x="352.30" y="421.33" width="10.1" height="10.1" fill="none" stroke="#3a9614" stroke-width="1.7"/>
<rect x="358.56" y="418.46" width="10.1" height="10.1" fill="none" stroke="#3a9614" stroke-width="1.7"/>
<rect x="364.81" y="415.42" width="10.1" height="10.1" fill="none" stroke="#3a9614" stroke-width="1.7"/>
<rect x="371.07" y="412.17" width="10.1" height="10.1" fill="none" stroke="#3a9614" stroke-width="1.7"/>
<rect x="377.33" y="408.41" width="10.1" height="10.1" fill="none" stroke="#3a9614" stroke-width="1.7"/>
<rect x="383.59" y="402.97" width="10.1" height="10.1" fill="none" stroke="#3a9614" stroke-width="1.7"/>
<rect x="389.85" y="399.45" width="10.1" height="10.1" fill="none" stroke="#3a9614" stroke-width="1.7"/>
<rect x="396.11" y="393.12" width="10.1" height="10.1" fill="none" stroke="#3a9614" stroke-width="1.7"/>
<rect x="402.36" y="389.02" width="10.1" height="10.1" fill="none" stroke="#3a9614" stroke-width="1.7"/>
<rect x="408.62" y="384.66" width="10.1" height="10.1" fill="none" stroke="#3a9614" stroke-width="1.7"/>
<rect x="414.88" y="379.63" width="10.1" height="10.1" fill="none" stroke="#3a9614" stroke-width="1.7"/>
<rect x="421.14" y="376.17" width="10.1" height="10.1" fill="none" stroke="#3a9614" stroke-width="1.7"/>
<rect x="427.39" y="370.75" width="10.1" height="10.1" fill="none" stroke="#3a9614" stroke-width="1.7"/>
<rect x="433.65" y="364.75" width="10.1" height="10.1" fill="none" stroke="#3a9614" stroke-width="1.7"/>
<rect x="439.91" y="362.43" width="10.1" height="10.1" fill="none" stroke="#3a9614" stroke-width="1.7"/>
<rect x="446.17" y="357.72" width="10.1" height="10.1" fill="none" stroke="#3a9614" stroke-width="1.7"/>
<rect x="452.43" y="352.13" width="10.1" height="10.1" fill="none" stroke="#3a9614" stroke-width="1.7"/>
<rect x="458.69" y="350.16" width="10.1" height="10.1" fill="none" stroke="#3a9614" stroke-width="1.7"/>
<rect x="464.94" y="345.94" width="10.1" height="10.1" fill="none" stroke="#3a9614" stroke-width="1.7"/>
<rect x="471.20" y="341.89" width="10.1" height="10.1" fill="none" stroke="#3a9614" stroke-width="1.7"/>
<rect x="477.46" y="339.01" width="10.1" height="10.1" fill="none" stroke="#3a9614" stroke-width="1.7"/>
<rect x="483.72" y="336.47" width="10.1" height="10.1" fill="none" stroke="#3a9614" stroke-width="1.7"/>
<rect x="489.97" y="335.33" width="10.1" height="10.1" fill="none" stroke="#3a9614" stroke-width="1.7"/>
<rect x="496.23" y="334.84" width="10.1" height="10.1" fill="none" stroke="#3a9614" stroke-width="1.7"/>
<rect x="502.49" y="334.16" width="10.1" height="10.1" fill="none" stroke="#3a9614" stroke-width="1.7"/>
<rect x="508.75" y="334.40" width="10.1" height="10.1" fill="none" stroke="#3a9614" stroke-width="1.7"/>
<rect x="515.01" y="334.40" width="10.1" height="10.1" fill="none" stroke="#3a9614" stroke-width="1.7"/>
<rect x="521.27" y="334.40" width="10.1" height="10.1" fill="none" stroke="#3a9614" stroke-width="1.7"/>
<rect x="527.52" y="334.40" width="10.1" height="10.1" fill="none" stroke="#3a9614" stroke-width="1.7"/>
<rect x="533.78" y="334.40" width="10.1" height="10.1" fill="none" stroke="#3a9614" stroke-width="1.7"/>
<rect x="540.04" y="334.40" width="10.1" height="10.1" fill="none" stroke="#3a9614" stroke-width="1.7"/>
<rect x="546.30" y="334.40" width="10.1" height="10.1" fill="none" stroke="#3a9614" stroke-width="1.7"/>
</g>
<path d="M91.2 35.0H742.3V956.0H91.2Z M91.2 635.0H742.3" fill="none" stroke="#000" stroke-width="2"/>
<path d="M135.2 35.0v4.5M166.5 35.0v8M197.8 35.0v4.5M229.1 35.0v8M260.4 35.0v4.5M291.6 35.0v8M322.9 35.0v4.5M354.2 35.0v8M385.5 35.0v4.5M448.1 35.0v4.5M479.4 35.0v8M510.7 35.0v4.5M542.0 35.0v8M573.2 35.0v4.5M604.5 35.0v8M635.8 35.0v4.5M667.1 35.0v8M698.4 35.0v4.5M135.2 635.0v-4.5M166.5 635.0v-8M197.8 635.0v-4.5M229.1 635.0v-8M260.4 635.0v-4.5M291.6 635.0v-8M322.9 635.0v-4.5M354.2 635.0v-8M385.5 635.0v-4.5M448.1 635.0v-4.5M479.4 635.0v-8M510.7 635.0v-4.5M542.0 635.0v-8M573.2 635.0v-4.5M604.5 635.0v-8M635.8 635.0v-4.5M667.1 635.0v-8M698.4 635.0v-4.5M135.2 635.0v2.8M166.5 635.0v4.5M197.8 635.0v2.8M229.1 635.0v4.5M260.4 635.0v2.8M291.6 635.0v4.5M322.9 635.0v2.8M354.2 635.0v4.5M385.5 635.0v2.8M448.1 635.0v2.8M479.4 635.0v4.5M510.7 635.0v2.8M542.0 635.0v4.5M573.2 635.0v2.8M604.5 635.0v4.5M635.8 635.0v2.8M667.1 635.0v4.5M698.4 635.0v2.8M135.2 956.0v-3M166.5 956.0v-5M197.8 956.0v-3M229.1 956.0v-5M260.4 956.0v-3M291.6 956.0v-5M322.9 956.0v-3M354.2 956.0v-5M385.5 956.0v-3M448.1 956.0v-3M479.4 956.0v-5M510.7 956.0v-3M542.0 956.0v-5M573.2 956.0v-3M604.5 956.0v-5M635.8 956.0v-3M667.1 956.0v-5M698.4 956.0v-3M91.2 631.4h11.5M742.3 631.4h-11.5M91.2 607.0h11.5M742.3 607.0h-11.5M91.2 582.7h22.5M742.3 582.7h-22.5M91.2 558.4h11.5M742.3 558.4h-11.5M91.2 534.0h11.5M742.3 534.0h-11.5M91.2 509.6h11.5M742.3 509.6h-11.5M91.2 485.3h22.5M742.3 485.3h-22.5M91.2 460.9h11.5M742.3 460.9h-11.5M91.2 436.6h11.5M742.3 436.6h-11.5M91.2 412.2h11.5M742.3 412.2h-11.5M91.2 387.9h22.5M742.3 387.9h-22.5M91.2 363.5h11.5M742.3 363.5h-11.5M91.2 339.2h11.5M742.3 339.2h-11.5M91.2 314.8h11.5M742.3 314.8h-11.5M91.2 290.5h22.5M742.3 290.5h-22.5M91.2 266.1h11.5M742.3 266.1h-11.5M91.2 241.8h11.5M742.3 241.8h-11.5M91.2 217.4h11.5M742.3 217.4h-11.5M91.2 193.1h22.5M742.3 193.1h-22.5M91.2 168.7h11.5M742.3 168.7h-11.5M91.2 144.4h11.5M742.3 144.4h-11.5M91.2 120.0h11.5M742.3 120.0h-11.5M91.2 95.7h22.5M742.3 95.7h-22.5M91.2 71.3h11.5M742.3 71.3h-11.5M91.2 47.0h11.5M742.3 47.0h-11.5M91.2 916.6h14.5M742.3 916.6h-14.5M91.2 884.7h10M742.3 884.7h-10M91.2 857.8h10M742.3 857.8h-10M91.2 834.4h10M742.3 834.4h-10M91.2 813.8h10M742.3 813.8h-10M91.2 795.4h14.5M742.3 795.4h-14.5M91.2 778.7h10M742.3 778.7h-10M91.2 763.5h10M742.3 763.5h-10M91.2 749.5h10M742.3 749.5h-10M91.2 736.6h10M742.3 736.6h-10M91.2 724.5h14.5M742.3 724.5h-14.5M91.2 713.2h10M742.3 713.2h-10M91.2 702.6h10M742.3 702.6h-10M91.2 692.6h10M742.3 692.6h-10M91.2 683.2h10M742.3 683.2h-10M91.2 674.2h14.5M742.3 674.2h-14.5M91.2 665.7h10M742.3 665.7h-10M91.2 657.5h10M742.3 657.5h-10M91.2 649.8h10M742.3 649.8h-10M91.2 642.3h10M742.3 642.3h-10" stroke="#000" stroke-width="1.3" fill="none"/>
<path d="M103.9 35.0v16M416.8 35.0v16M729.7 35.0v16M103.9 635.0v-16M416.8 635.0v-16M729.7 635.0v-16M103.9 635.0v9.5M416.8 635.0v9.5M729.7 635.0v9.5M103.9 956.0v-10M416.8 956.0v-10M729.7 956.0v-10" stroke="#000" stroke-width="1.7" fill="none"/>
<g font-size="23.7" fill="#000" stroke="#000" stroke-width="0.12">
<text x="104" y="28.6" font-size="23.8" stroke-width="0.3">1960 GeV ppbar</text>
<text x="549.0" y="28.6" font-size="23.9" stroke-width="0.3" textLength="187.0" lengthAdjust="spacingAndGlyphs">Top (parton level)</text>
<text transform="translate(82.0 105.4) scale(0.94 1)" text-anchor="end">6</text>
<text transform="translate(82.0 202.8) scale(0.94 1)" text-anchor="end">4</text>
<text transform="translate(82.0 300.2) scale(0.94 1)" text-anchor="end">2</text>
<text transform="translate(82.0 397.6) scale(0.94 1)" text-anchor="end">0</text>
<text transform="translate(82.0 495.0) scale(0.94 1)" text-anchor="end">−2</text>
<text transform="translate(82.0 592.4) scale(0.94 1)" text-anchor="end">−4</text>
<text transform="translate(76.9 683.4) scale(0.94 1)" text-anchor="end">2</text>
<text transform="translate(747.9 683.4) scale(0.94 1)" text-anchor="start">2</text>
<text transform="translate(76.9 804.6) scale(0.94 1)" text-anchor="end">1</text>
<text transform="translate(747.9 804.6) scale(0.94 1)" text-anchor="start">1</text>
<text transform="translate(76.9 925.8) scale(0.94 1)" text-anchor="end">0.5</text>
<text transform="translate(747.9 925.8) scale(0.94 1)" text-anchor="start">0.5</text>
<text transform="translate(102.5 978.5) scale(0.94 1)" text-anchor="middle">−5</text>
<text transform="translate(416.8 978.5) scale(0.94 1)" text-anchor="middle">0</text>
<text transform="translate(729.7 978.5) scale(0.94 1)" text-anchor="middle">5</text>
</g>
<text x="389.2" y="85.3" font-size="23.5" fill="#000" stroke="#000" stroke-width="0.3">y</text><text x="405.3" y="85.3" font-size="19.8" fill="#000" stroke="#000" stroke-width="0.25">(top)</text>
<text x="416" y="603.4" font-size="15.6" fill="#aaaaaa" text-anchor="middle">(MC_FBA_TTBAR)</text>
<text transform="translate(34.3 915.4) rotate(-90)" font-size="19.2" textLength="246" lengthAdjust="spacingAndGlyphs" fill="#000" stroke="#000" stroke-width="0.1">Ratio to Herwig++ 2.7.1 default</text>
<text transform="translate(760.2 254.3) rotate(-90)" font-size="19.7" stroke="#808080" stroke-width="0.15" textLength="216.2" lengthAdjust="spacingAndGlyphs" fill="#808080">Rivet 4.1.0, ≥ 100k events</text>
<text transform="translate(762.2 628.3) rotate(-90)" font-size="19.7" stroke="#808080" stroke-width="0.15" textLength="296" lengthAdjust="spacingAndGlyphs" fill="#808080">mcplots.cern.ch [arXiv:2401.10621]</text>
<path d="M128.5 506.5H175.3" stroke="#b35a0a" stroke-width="1.5" stroke-dasharray="4.9 3.4"/>
<circle cx="153" cy="506.5" r="5.1" fill="none" stroke="#b35a0a" stroke-width="1.6"/>
<text x="187.5" y="511.9" font-size="19.3" textLength="190.3" lengthAdjust="spacingAndGlyphs" fill="#000" stroke="#000" stroke-width="0.1">Herwig++ 2.7.1 default</text>
<path d="M128.5 532.6H175.3" stroke="#3a9614" stroke-width="1.5" stroke-dasharray="4.9 3.4"/>
<rect x="148" y="527.6" width="10" height="10" fill="none" stroke="#3a9614" stroke-width="1.6"/>
<text x="187.5" y="539.0" font-size="19.3" textLength="168.1" lengthAdjust="spacingAndGlyphs" fill="#000" stroke="#000" stroke-width="0.1">Herwig 7.2.1 default</text>
</svg>
</body></html>
